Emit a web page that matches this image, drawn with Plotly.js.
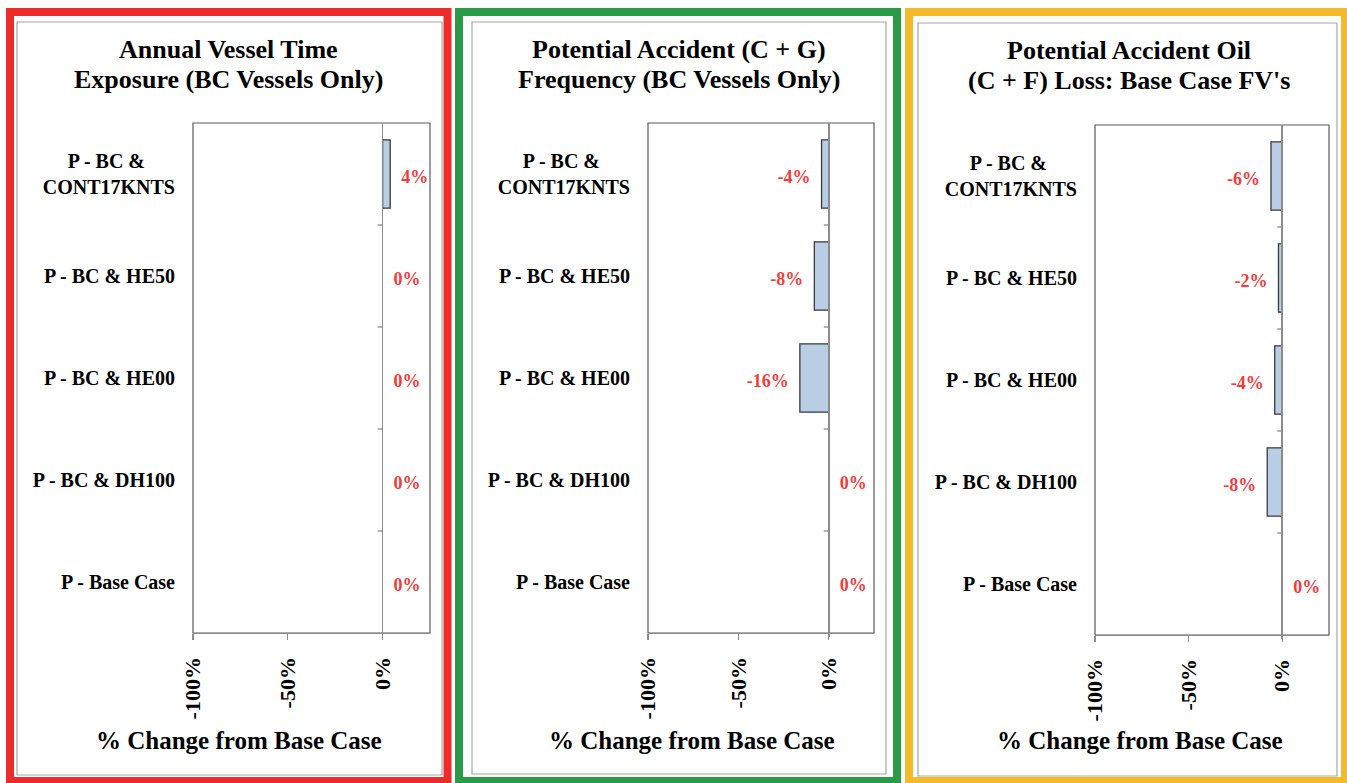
<!DOCTYPE html>
<html>
<head>
<meta charset="utf-8">
<script src="https://cdn.plot.ly/plotly-3.0.1.min.js"></script>
<style>
  html, body { margin: 0; padding: 0; background: #ffffff; }
  #chart { width: 1347px; height: 783px; }
</style>
</head>
<body>
<div id="chart"></div>
<script>
// ---------------- data ----------------
const categories = ['P - BC & CONT17KNTS', 'P - BC & HE50', 'P - BC & HE00', 'P - BC & DH100', 'P - Base Case'];
const categoryTickLabels = ['P - BC &\u00a0\u00a0\u00a0\u00a0\u00a0\u00a0<br>CONT17KNTS', 'P - BC & HE50', 'P - BC & HE00', 'P - BC & DH100', 'P - Base Case'];
const vesselTimeExposure = [4, 0, 0, 0, 0];
const accidentFrequency = [-4, -8, -16, 0, 0];
const oilLoss = [-6, -2, -4, -8, 0];
const xTickValues = [-100, -50, 0];
const xTickLabels = ['-100%', '-50%', '0%'];
const panelTitles = [
  ['Annual Vessel Time', 'Exposure (BC Vessels Only)'],
  ['Potential Accident (C + G)', 'Frequency (BC Vessels Only)'],
  ['Potential Accident Oil', '(C + F) Loss: Base Case FV\'s']
];
const axisTitleText = '% Change from Base Case';

// ---------------- layout helpers ----------------
const W = 1347, H = 783;
const px = x => x / W;
const py = y => 1 - y / H;
const FONT = 'Liberation Serif, DejaVu Serif, serif';
const LABEL_SHIFT = 4; // px: data labels sit slightly below the bar centre

const panelSeries = [vesselTimeExposure, accidentFrequency, oilLoss];
const panelStyle = [
  { frame: '#ee2b2b', frameBox: [10, 12, 447.5, 781], inner: [17, 22, 442, 775], plot: [193, 123, 430, 633], titleX: 228, titleY: [49, 79], axisTitleX: 239.5 },
  { frame: '#2a9a48', frameBox: [459, 12, 897, 781], inner: [472, 22, 886, 774], plot: [648, 123, 874, 633], titleX: 679, titleY: [49, 79], axisTitleX: 692 },
  { frame: '#f3bb2c', frameBox: [909, 12, 1345, 781], inner: [918, 23, 1337, 776], plot: [1095, 125, 1329, 635], titleX: 1129, titleY: [51, 81], axisTitleX: 1140 }
];

const data = [];
const shapes = [];
const annotations = [];
const layout = {
  width: W, height: H,
  margin: { l: 0, r: 0, t: 0, b: 0, pad: 0 },
  paper_bgcolor: '#ffffff',
  plot_bgcolor: 'rgba(0,0,0,0)',
  showlegend: false,
  bargap: 0.33,
  font: { family: FONT, color: '#000000' },
  shapes: shapes,
  annotations: annotations
};

panelStyle.forEach((p, i) => {
  const n = i === 0 ? '' : String(i + 1);
  const xName = 'x' + n, yName = 'y' + n;
  const yLabName = 'y' + (i + 4);
  const values = panelSeries[i];

  // frames
  shapes.push({ type: 'rect', xref: 'paper', yref: 'paper',
    x0: px(p.frameBox[0]), x1: px(p.frameBox[2]), y0: py(p.frameBox[1]), y1: py(p.frameBox[3]),
    line: { color: p.frame, width: 8 }, fillcolor: 'rgba(0,0,0,0)', layer: 'below' });
  shapes.push({ type: 'rect', xref: 'paper', yref: 'paper',
    x0: px(p.inner[0]), x1: px(p.inner[2]), y0: py(p.inner[1]), y1: py(p.inner[3]),
    line: { color: '#a6a6a6', width: 1.2 }, fillcolor: 'rgba(0,0,0,0)', layer: 'below' });
  // plot-area border
  shapes.push({ type: 'rect', xref: xName + ' domain', yref: yName + ' domain',
    x0: 0, x1: 1, y0: 0, y1: 1, line: { color: '#5a5a5a', width: 1.2 }, layer: 'below' });
  // category boundary ticks on the zero axis
  for (let k = 0; k < categories.length - 1; k++) {
    shapes.push({ type: 'line', xref: xName, yref: yName, xsizemode: 'pixel', xanchor: 0,
      x0: -5, x1: 0, y0: k + 0.5, y1: k + 0.5, line: { color: '#8c8c8c', width: 1.3 } });
  }

  layout['xaxis' + n] = {
    domain: [px(p.plot[0]), px(p.plot[2])],
    anchor: yName,
    range: [-100, 25],
    tickmode: 'array', tickvals: xTickValues, ticktext: xTickLabels,
    tickangle: -90,
    ticks: 'outside', ticklen: 6, tickwidth: 1.3, tickcolor: '#8c8c8c',
    ticklabelstandoff: 8,
    showline: true, linecolor: '#8c8c8c', linewidth: 1.3,
    zeroline: true, zerolinecolor: '#8c8c8c', zerolinewidth: 1.6,
    showgrid: false, fixedrange: true,
    tickfont: { family: FONT, size: 22, weight: 'bold', color: '#000000' }
  };
  layout['yaxis' + n] = {
    domain: [py(p.plot[3]), py(p.plot[1])],
    anchor: xName,
    type: 'category',
    categoryorder: 'array', categoryarray: categories,
    autorange: 'reversed',
    tickmode: 'array', tickvals: categories, ticktext: categoryTickLabels,
    ticks: '', ticklabelstandoff: 17,
    showline: false, showgrid: false, zeroline: false, fixedrange: true,
    tickfont: { family: FONT, size: 20, weight: 'bold', color: '#000000' }
  };
  // hidden axis for the data labels, same categories, nudged down a few pixels
  layout['yaxis' + (i + 4)] = {
    domain: [py(p.plot[3] + LABEL_SHIFT), py(p.plot[1] + LABEL_SHIFT)],
    anchor: xName,
    type: 'category',
    categoryorder: 'array', categoryarray: categories,
    range: [categories.length - 0.5, -0.5],
    visible: false, fixedrange: true
  };

  data.push({
    type: 'bar', orientation: 'h',
    x: values, y: categories,
    xaxis: xName, yaxis: yName,
    marker: { color: '#b9cde5', line: { color: '#3a3a3a', width: values.map(v => (v === 0 ? 0 : 1.3)) } },
    hoverinfo: 'skip'
  });
  data.push({
    type: 'scatter', mode: 'markers+text',
    x: values, y: categories,
    xaxis: xName, yaxis: yLabName,
    text: values.map(v => v + '%'),
    textposition: values.map(v => (v < 0 ? 'middle left' : 'middle right')),
    marker: { size: 16, opacity: 0 },
    textfont: { family: FONT, size: 18, weight: 'bold', color: '#f03c3c' },
    cliponaxis: false,
    hoverinfo: 'skip'
  });

  panelTitles[i].forEach((line, j) => {
    annotations.push({
      xref: 'paper', yref: 'paper', x: px(p.titleX), y: py(p.titleY[j]),
      xanchor: 'center', yanchor: 'middle', align: 'center', showarrow: false,
      text: line,
      font: { family: FONT, size: 26, weight: 'bold', color: '#000000' }
    });
  });
  annotations.push({
    xref: 'paper', yref: 'paper', x: px(p.axisTitleX), y: py(740),
    xanchor: 'center', yanchor: 'middle', showarrow: false,
    text: axisTitleText,
    font: { family: FONT, size: 25, weight: 'bold', color: '#000000' }
  });
});

Plotly.newPlot('chart', data, layout, { staticPlot: true, displayModeBar: false });
</script>
</body>
</html>
